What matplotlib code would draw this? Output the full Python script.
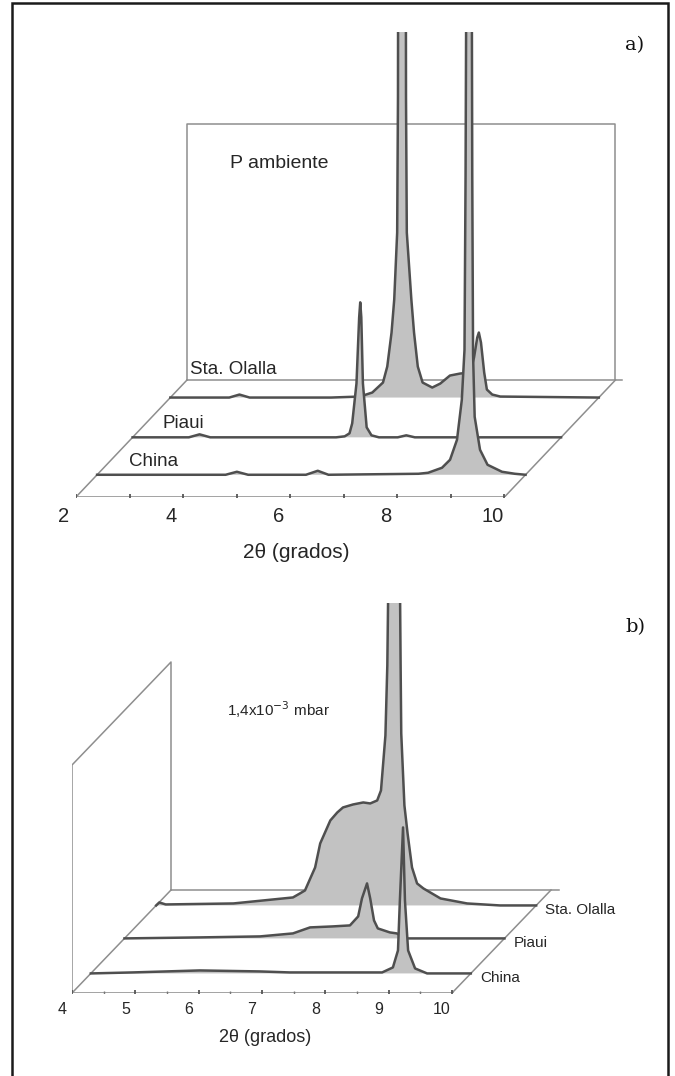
import numpy as np
import matplotlib
matplotlib.use("Agg")
import matplotlib.pyplot as plt
from matplotlib import transforms
from matplotlib.patches import Rectangle

plt.rcParams['font.family'] = ['Liberation Sans', 'DejaVu Sans']

# ---------------- panel a) : P ambiente ----------------
a_names = ["China", "Piaui", "Sta. Olalla"]
a_depth = [0.19, 0.51, 0.85]          # position of each trace along the depth axis (0 front, 1 back)

a_china_x = [2.0, 4.40, 4.61, 4.82, 5.90, 6.12, 6.32, 8.00, 8.18, 8.44, 8.59, 8.72, 8.81,
             8.86, 8.88, 8.895, 8.995, 9.005, 9.02, 9.05, 9.15, 9.29, 9.56, 9.80, 10.0]
a_china_y = [0, 0, 3, 0, 0, 4, 0, 1, 2, 7, 15, 35, 75,
             125, 300, 520, 520, 300, 120, 58, 25, 10, 3, 1, 0]

a_piaui_x = [2.0, 3.05, 3.25, 3.45, 5.80, 5.96, 6.05, 6.10, 6.18, 6.23, 6.25, 6.27, 6.30,
             6.37, 6.46, 6.60, 6.95, 7.11, 7.27, 10.0]
a_piaui_y = [0, 0, 3, 0, 0, 1, 4, 14, 54, 120, 135, 120, 54,
             10, 2, 0, 0, 2, 0, 0]

a_olalla_x = [2.0, 3.10, 3.29, 3.48, 5.00, 5.54, 5.77, 5.97, 6.05, 6.13, 6.18, 6.235, 6.25,
              6.255, 6.395, 6.40, 6.415, 6.50, 6.55, 6.62, 6.71, 6.89, 7.04, 7.22, 7.41,
              7.60, 7.67, 7.73, 7.76, 7.80, 7.86, 7.91, 8.01, 8.16, 10.0]
a_olalla_y = [0, 0, 3, 0, 0, 1, 5, 15, 31, 65, 98, 165, 300,
              520, 520, 300, 165, 98, 65, 31, 15, 10, 14, 22, 24,
              25, 40, 60, 65, 55, 25, 8, 3, 1, 0]

a_ticks = list(range(2, 11))
a_ticklabels = ["2", "", "4", "", "6", "", "8", "", "10"]

# ---------------- panel b) : 1,4x10^-3 mbar ----------------
b_names = ["China", "Piaui", "Sta. Olalla"]
b_depth = [0.19, 0.53, 0.85]

b_china_x = [4.0, 4.66, 5.72, 6.67, 7.14, 8.60, 8.77, 8.85, 8.88, 8.93, 8.96, 9.01, 9.12, 9.31, 10.0]
b_china_y = [0, 1, 3, 2, 1, 1, 6, 23, 73, 146, 73, 23, 5, 0, 0]

b_piaui_x = [4.0, 5.19, 6.14, 6.66, 6.93, 7.29, 7.56, 7.69, 7.75, 7.83, 7.88, 7.94, 8.00,
             8.19, 8.30, 8.43, 10.0]
b_piaui_y = [0, 1, 2, 5, 11, 12, 13, 22, 40, 55, 40, 18, 10, 6, 5, 0, 0]

b_olalla_x = [4.0, 4.05, 4.15, 5.22, 6.16, 6.27, 6.35, 6.51, 6.59, 6.75, 6.86, 6.95, 7.11,
              7.27, 7.38, 7.49, 7.55, 7.62, 7.65, 7.68, 7.84, 7.86, 7.87, 7.92, 7.97,
              8.04, 8.12, 8.22, 8.49, 8.91, 9.43, 10.0]
b_olalla_y = [0, 3, 1, 2, 8, 12, 15, 38, 62, 85, 93, 98, 101,
              103, 102, 105, 115, 170, 240, 400, 400, 240, 172, 100, 72,
              38, 22, 17, 7, 2, 0, 0]

b_ticks = list(range(4, 11))
b_minor = [4.5, 5.5, 6.5, 7.5, 8.5, 9.5]

# ---------------- styling ----------------
W, H = 675, 1076
FILL = "#c2c2c2"
TRACE = "#4f4f4f"
FRAME = "#8e8e8e"
TEXT = "#262626"

fig = plt.figure(figsize=(W / 100, H / 100), dpi=100)


def px_axes(left, top, right, bottom):
    ax = fig.add_axes([left / W, 1 - bottom / H, (right - left) / W, (bottom - top) / H])
    ax.axis("off")
    return ax


def shift(ax, dx, dy):
    return transforms.Affine2D().translate(dx, dy) + ax.transData


def draw_trace(ax, x, y, tf, z):
    x = np.asarray(x, float)
    y = np.asarray(y, float)
    ax.fill(np.r_[x, x[::-1]], np.r_[y, np.zeros_like(y)], transform=tf,
            fc=FILL, ec="none", zorder=z)
    ax.plot(x, y, transform=tf, color=TRACE, lw=1.8, zorder=z + 0.1)


def draw_floor(ax, x0, x1, ddx, ddy):
    back = shift(ax, ddx, ddy)
    ax.plot([x0, x1], [0, 0], color="#9a9a9a", lw=2.0, zorder=1)
    ax.plot([x0, x1 + 0.12], [0, 0], color=FRAME, lw=1.1, transform=back, zorder=1)
    ax.plot([x0, x0 + ddx], [0, ddy], color=FRAME, lw=1.1, zorder=1)
    ax.plot([x1, x1 + ddx], [0, ddy], color=FRAME, lw=1.1, zorder=1)


# ---- panel a ----
ax_a = px_axes(76, 32, 633, 497)
ax_a.set_xlim(2, 12.4)
ax_a.set_ylim(0, 465)
ppu_a = 557 / 10.4
dda = (111 / ppu_a, 117)

draw_floor(ax_a, 2, 10, *dda)
ax_a.plot([2, 2, 10, 10], [0, 256, 256, 0], color=FRAME, lw=1.1,
          transform=shift(ax_a, *dda), zorder=1)
ax_a.plot(a_ticks, np.zeros(len(a_ticks)), ls="none", marker="|", ms=4, mew=1.3,
          color="#555555", zorder=1.5)

a_traces = [(a_china_x, a_china_y), (a_piaui_x, a_piaui_y), (a_olalla_x, a_olalla_y)]
a_label_pos = [(2.60, 13), (2.56, 14), (2.37, 28)]
for i in [2, 1, 0]:
    f = a_depth[i]
    tf = shift(ax_a, f * dda[0], f * dda[1])
    draw_trace(ax_a, *a_traces[i], tf, z=5 - i)
    ax_a.text(*a_label_pos[i], a_names[i], transform=tf, ha="left", va="center",
              fontsize=13.5, color=TEXT, zorder=6)

lab_tf = transforms.offset_copy(ax_a.transData, fig=fig, x=-12, y=-19, units="dots")
for t, lab in zip(a_ticks, a_ticklabels):
    if lab:
        ax_a.text(t, 0, lab, transform=lab_tf, ha="center", va="center",
                  fontsize=14.5, color=TEXT)

fig.text(296 / W, 1 - 552 / H, "2θ (grados)", ha="center", va="center", fontsize=15, color=TEXT)
fig.text(230 / W, 1 - 163 / H, "P ambiente", ha="left", va="center", fontsize=14, color=TEXT)
fig.text(635 / W, 1 - 45 / H, "a)", ha="center", va="center", fontsize=14,
         family="DejaVu Serif", color="#111111")

# ---- panel b ----
ax_b = px_axes(72, 603, 566, 993)
ax_b.set_xlim(4, 11.8)
ax_b.set_ylim(0, 390)
ppu_b = 494 / 7.8
ddb = (99 / ppu_b, 103)

draw_floor(ax_b, 4, 10, *ddb)
wall_h = 228
ax_b.plot([4, 4, 4 + ddb[0], 4 + ddb[0]], [0, wall_h, wall_h + ddb[1], ddb[1]],
          color=FRAME, lw=1.1, zorder=1)
ax_b.plot(b_ticks, np.zeros(len(b_ticks)), ls="none", marker="|", ms=4, mew=1.3,
          color="#555555", zorder=1.5)
ax_b.plot(b_minor, np.zeros(len(b_minor)), ls="none", marker="|", ms=2.5, mew=1.0,
          color="#777777", zorder=1.5)

b_traces = [(b_china_x, b_china_y), (b_piaui_x, b_piaui_y), (b_olalla_x, b_olalla_y)]
for i in [2, 1, 0]:
    f = b_depth[i]
    tf = shift(ax_b, f * ddb[0], f * ddb[1])
    draw_trace(ax_b, *b_traces[i], tf, z=5 - i)
    name_tf = transforms.offset_copy(tf, fig=fig, x=9, y=-5, units="dots")
    ax_b.text(10, 0, b_names[i], transform=name_tf, ha="left", va="center",
              fontsize=11, color=TEXT, zorder=6)

lab_tf_b = transforms.offset_copy(ax_b.transData, fig=fig, x=-10, y=-17, units="dots")
for t in b_ticks:
    ax_b.text(t, 0, str(t), transform=lab_tf_b, ha="center", va="center",
              fontsize=11.5, color=TEXT)

fig.text(265 / W, 1 - 1038 / H, "2θ (grados)", ha="center", va="center", fontsize=13, color=TEXT)
fig.text(227 / W, 1 - 710 / H, "1,4x10$^{-3}$ mbar", ha="left", va="center", fontsize=11, color=TEXT)
fig.text(635 / W, 1 - 627 / H, "b)", ha="center", va="center", fontsize=14,
         family="DejaVu Serif", color="#111111")

# outer frame, open at the bottom like the scanned page
fig.add_artist(Rectangle((12 / W, -0.01), 656 / W, 1.01 - 3 / H, transform=fig.transFigure,
                         fill=False, lw=1.8, ec="#1a1a1a"))

fig.savefig("out.png", dpi=100)
